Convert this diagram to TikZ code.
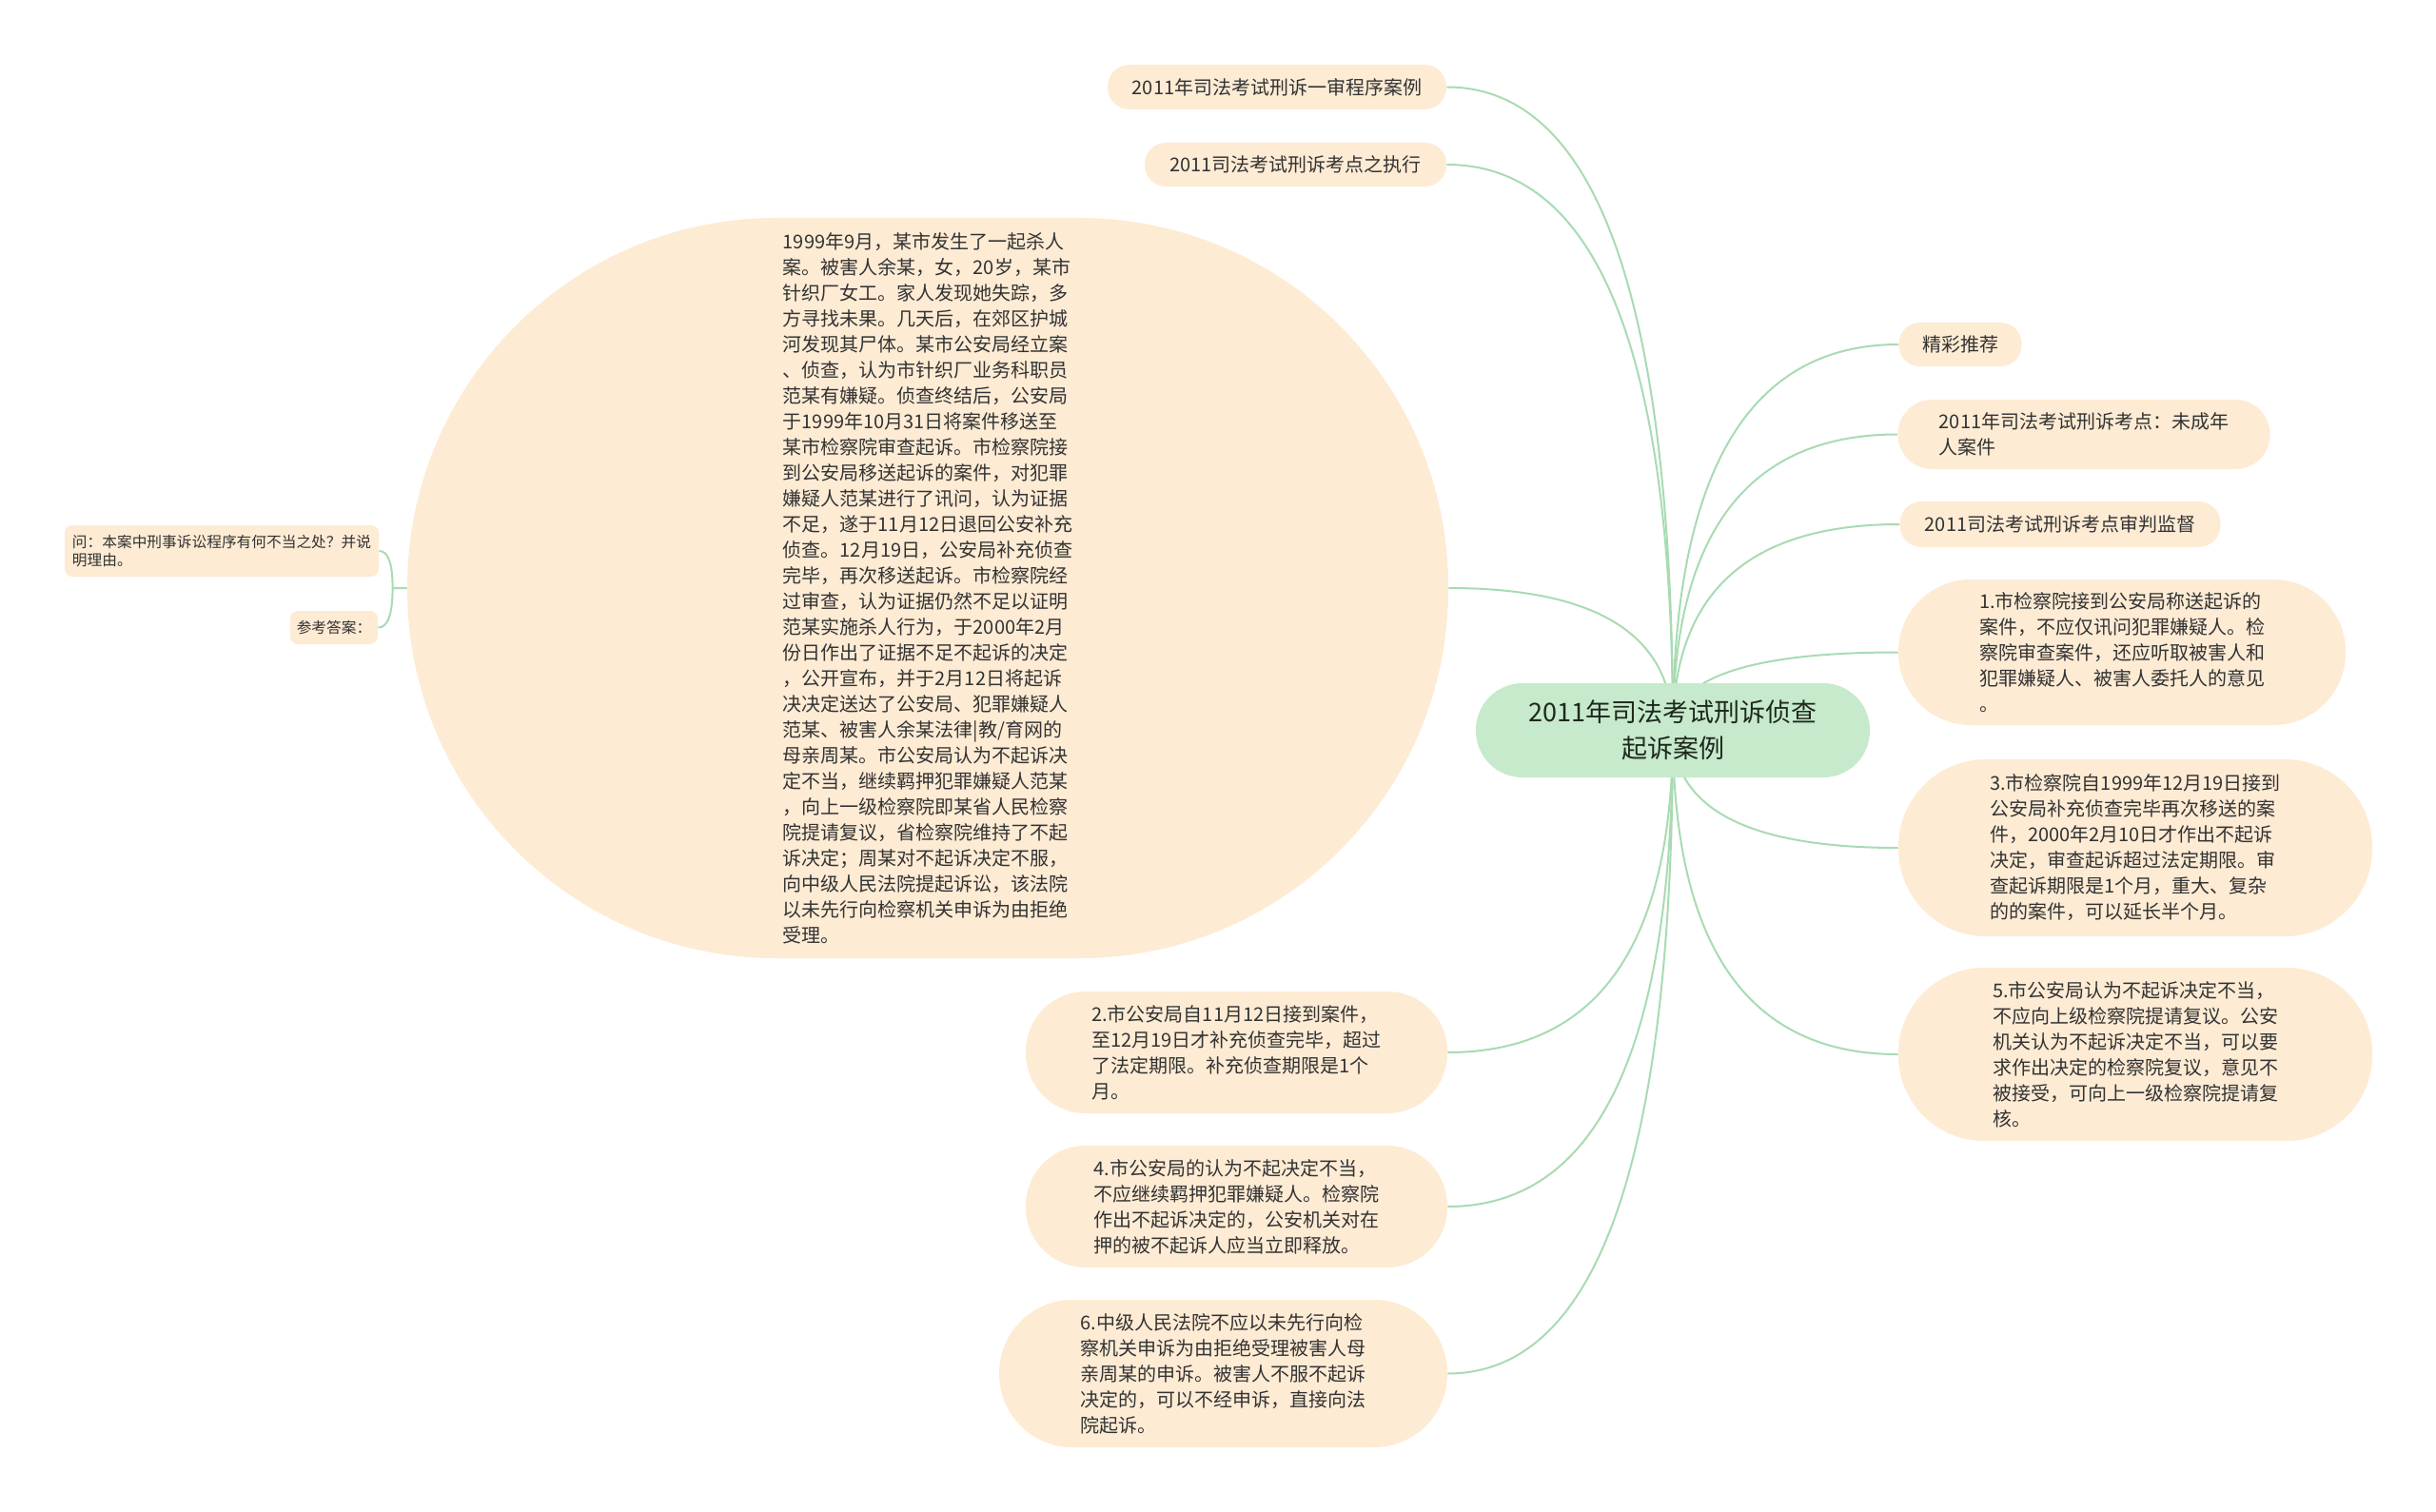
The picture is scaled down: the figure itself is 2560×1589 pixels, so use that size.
\documentclass[tikz,border=0pt]{standalone}
\usepackage{fontspec}
\setmainfont{Noto Sans CJK SC}
\usepackage{tikz}
\usetikzlibrary{calc,backgrounds}
\definecolor{leafc}{RGB}{253,235,212}
\definecolor{rootc}{RGB}{198,234,203}
\definecolor{linkc}{RGB}{168,219,178}
\definecolor{textc}{RGB}{51,51,51}
\definecolor{roottext}{RGB}{30,40,30}
\tikzset{
    pill/.style={fill=leafc, text=textc, align=left, inner sep=0pt,
                 font=\fontsize{10pt}{13.5pt}\selectfont},
    note/.style={pill, rounded corners=4pt, font=\fontsize{7.85pt}{9.2pt}\selectfont},
    rootnode/.style={pill, fill=rootc, text=roottext, align=center,
                 font=\fontsize{13.5pt}{19pt}\selectfont},
    link/.style={draw=linkc, line width=1pt},
    branch/.style={to path={.. controls ($(\tikztostart)!2/3!(\tikztostart |- \tikztotarget)$)
                 and ($(\tikztotarget)!2/3!(\tikztostart |- \tikztotarget)$) .. (\tikztotarget)}}
}

\begin{document}
\begin{tikzpicture}[x=0.5pt,y=-0.5pt]
            \path[use as bounding box] (0,0) rectangle (2560,1589);

            \node[rootnode, minimum width=207pt, minimum height=49.5pt, rounded corners=24.5pt]
                (root) at (1758,767.5) {2011年司法考试刑诉侦查\\起诉案例};

            \begin{scope}
                \node[pill, minimum width=178pt, minimum height=23.5pt, rounded corners=11.5pt]
                    (yishen) at (1342,91.5) {2011年司法考试刑诉一审程序案例};
                \node[pill, minimum width=158.5pt, minimum height=23pt, rounded corners=11pt]
                    (zhixing) at (1361.5,173) {2011司法考试刑诉考点之执行};
                \node[pill, minimum width=547pt, minimum height=389pt, rounded corners=194pt]
                    (anli) at (975,618) {1999年9月，某市发生了一起杀人\\案。被害人余某，女，20岁，某市\\针织厂女工。家人发现她失踪，多\\方寻找未果。几天后，在郊区护城\\河发现其尸体。某市公安局经立案\\、侦查，认为市针织厂业务科职员\\范某有嫌疑。侦查终结后，公安局\\于1999年10月31日将案件移送至\\某市检察院审查起诉。市检察院接\\到公安局移送起诉的案件，对犯罪\\嫌疑人范某进行了讯问，认为证据\\不足，遂于11月12日退回公安补充\\侦查。12月19日，公安局补充侦查\\完毕，再次移送起诉。市检察院经\\过审查，认为证据仍然不足以证明\\范某实施杀人行为，于2000年2月\\份日作出了证据不足不起诉的决定\\，公开宣布，并于2月12日将起诉\\决决定送达了公安局、犯罪嫌疑人\\范某、被害人余某法律|教/育网的\\母亲周某。市公安局认为不起诉决\\定不当，继续羁押犯罪嫌疑人范某\\，向上一级检察院即某省人民检察\\院提请复议，省检察院维持了不起\\诉决定；周某对不起诉决定不服，\\向中级人民法院提起诉讼，该法院\\以未先行向检察机关申诉为由拒绝\\受理。};
                \node[note, minimum width=165pt, minimum height=27pt]
                    (wen) at (233,579) {问：本案中刑事诉讼程序有何不当之处？并说\\明理由。};
                \node[note, minimum width=46pt, minimum height=17.5pt]
                    (daan) at (351,659.5) {参考答案：};
                \node[pill, minimum width=221.5pt, minimum height=64pt, rounded corners=31.5pt]
                    (ans2) at (1299.5,1106) {2.市公安局自11月12日接到案件，\\至12月19日才补充侦查完毕，超过\\了法定期限。补充侦查期限是1个\\月。};
                \node[pill, minimum width=221.5pt, minimum height=64pt, rounded corners=31.5pt]
                    (ans4) at (1299.5,1268) {4.市公安局的认为不起决定不当，\\不应继续羁押犯罪嫌疑人。检察院\\作出不起诉决定的，公安机关对在\\押的被不起诉人应当立即释放。};
                \node[pill, minimum width=235.5pt, minimum height=77.5pt, rounded corners=38.5pt]
                    (ans6) at (1285.5,1443.5) {6.中级人民法院不应以未先行向检\\察机关申诉为由拒绝受理被害人母\\亲周某的申诉。被害人不服不起诉\\决定的，可以不经申诉，直接向法\\院起诉。};
            \end{scope}

            \begin{scope}
                \node[pill, minimum width=64.5pt, minimum height=23pt, rounded corners=11pt]
                    (tuijian) at (2060,362) {精彩推荐};
                \node[pill, minimum width=195.5pt, minimum height=36.5pt, rounded corners=18pt]
                    (weicheng) at (2190,456.5) {2011年司法考试刑诉考点：未成年\\人案件};
                \node[pill, minimum width=168.5pt, minimum height=24pt, rounded corners=11.5pt]
                    (jiandu) at (2165,551) {2011司法考试刑诉考点审判监督};
                \node[pill, minimum width=235pt, minimum height=76.5pt, rounded corners=38pt]
                    (ans1) at (2230,685.5) {1.市检察院接到公安局称送起诉的\\案件，不应仅讯问犯罪嫌疑人。检\\察院审查案件，还应听取被害人和\\犯罪嫌疑人、被害人委托人的意见\\。};
                \node[pill, minimum width=249pt, minimum height=93pt, rounded corners=46pt]
                    (ans3) at (2244,891) {3.市检察院自1999年12月19日接到\\公安局补充侦查完毕再次移送的案\\件，2000年2月10日才作出不起诉\\决定，审查起诉超过法定期限。审\\查起诉期限是1个月，重大、复杂\\的的案件，可以延长半个月。};
                \node[pill, minimum width=249pt, minimum height=91pt, rounded corners=45pt]
                    (ans5) at (2244,1108) {5.市公安局认为不起诉决定不当，\\不应向上级检察院提请复议。公安\\机关认为不起诉决定不当，可以要\\求作出决定的检察院复议，意见不\\被接受，可向上一级检察院提请复\\核。};
            \end{scope}

            \begin{scope}[on background layer]
                \foreach \n in {yishen,zhixing,anli,ans2,ans4,ans6}
                    \draw[link] (root.center) to[branch] (\n.east);
                \foreach \n in {tuijian,weicheng,jiandu,ans1,ans3,ans5}
                    \draw[link] (root.center) to[branch] (\n.west);
                \coordinate (fork) at ([xshift=-7.5pt]anli.west);
                \draw[link] (anli.west) -- (fork) to[branch] (wen.east);
                \draw[link] (fork) to[branch] (daan.east);
            \end{scope}
        \end{tikzpicture}
\end{document}
